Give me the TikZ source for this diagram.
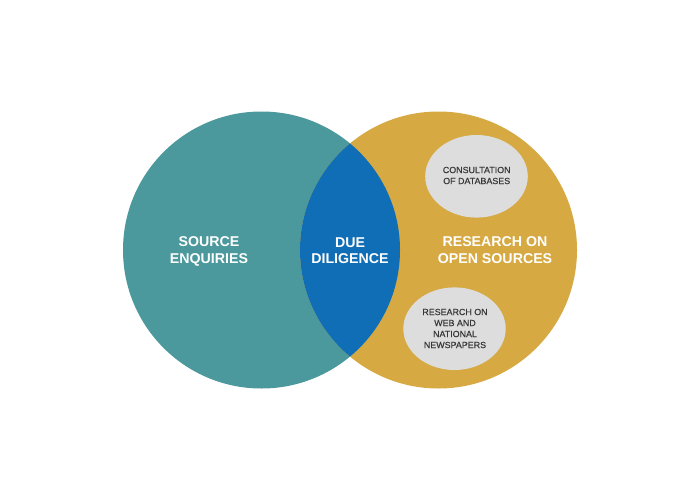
\documentclass[tikz,border=0pt]{standalone}
\usepackage{fontspec}
\setmainfont{Liberation Sans}
\newfontfamily\smallfnt[FakeBold=0.3]{Liberation Sans}
\definecolor{teal}{RGB}{75,153,157}
\definecolor{gold}{RGB}{214,169,66}
\definecolor{dblue}{RGB}{16,110,182}
\definecolor{lgrey}{RGB}{221,221,221}
\definecolor{tgrey}{RGB}{55,55,55}
\begin{document}
\begin{tikzpicture}[x=1pt,y=-1pt,
  bigtext/.style={text=white,font=\fontsize{14.2}{16.5}\selectfont\bfseries,align=center},
  smalltext/.style={text=tgrey,font=\smallfnt\fontsize{8.9}{11}\selectfont,align=center},
  bubble/.style={fill=lgrey,draw=none}]
\useasboundingbox (0,0) rectangle (700,500);
\fill[white] (0,0) rectangle (700,500);
\fill[teal] (261.5,250) circle (138.5);
\fill[gold] (438.5,250) circle (138.5);
\begin{scope}
  \clip (261.5,250) circle (138.5);
  \fill[dblue] (438.5,250) circle (138.5);
\end{scope}
\fill[bubble] (476.5,176.3) ellipse [x radius=51.3, y radius=41.3];
\fill[bubble] (454.5,328.7) ellipse [x radius=51.2, y radius=41.3];
\node[bigtext] (src) at (209,251.5) {SOURCE\\ENQUIRIES};
\node[bigtext] (dd) at (350,250.5) {DUE\\DILIGENCE};
\node[bigtext] (open) at (495,250) {RESEARCH ON\\OPEN SOURCES};
\node[smalltext] (db) at (476.7,175.5) {CONSULTATION\\OF DATABASES};
\node[smalltext] (web) at (455,328.5) {RESEARCH ON\\WEB AND\\NATIONAL\\NEWSPAPERS};
\end{tikzpicture}
\end{document}
